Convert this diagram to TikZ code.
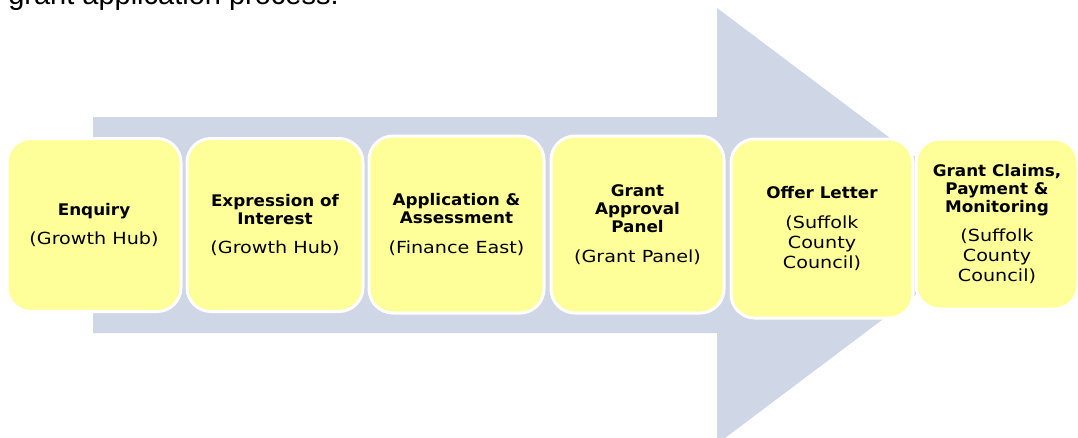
\documentclass[tikz,border=0pt]{standalone}
\usepackage{fontspec}
\setmainfont{Liberation Sans}
\newfontfamily\stagefont[FakeStretch=1.15]{DejaVu Sans}
\newfontfamily\stagebold[FakeStretch=1.05]{DejaVu Sans Bold}
\usetikzlibrary{positioning}

\definecolor{arrowblue}{RGB}{207,214,230}
\definecolor{stageyellow}{RGB}{255,255,153}

\newcommand{\headline}{\stagebold\fontsize{12}{13.5}\selectfont}
\newcommand{\subline}{\stagefont\fontsize{12.5}{15}\selectfont}

\begin{document}
\begin{tikzpicture}
	% Styles
	[
	x=0.75pt, y=-0.75pt,
	stage/.style={rectangle,rounded corners=18pt,fill=stageyellow,draw=white,line width=2.25pt,
		inner sep=0pt,align=center,minimum width=174*0.75pt,minimum height=173*0.75pt,
		font=\fontsize{11}{13.5}\selectfont},
	]

	\useasboundingbox (0,0) rectangle (1078,437);

	% Caption (cut off at the top)
	\node at (8,4) (caption) [anchor=base west,inner sep=0pt,font=\fontsize{21.75}{26}\selectfont] {grant application process.};

	% Arrow
	\fill[arrowblue] (93,117) -- (717,117) -- (717,8) -- (1007,226) -- (717,444) -- (717,333) -- (93,333) -- cycle;

	% Nodes
	\node at (94,225)	(enquiry)	[stage] {\headline Enquiry\\[8.5pt]\subline (Growth Hub)};
	\node at (275,225)	(interest)	[stage,minimum width=176*0.75pt] {\headline Expression of\\\headline Interest\\[8.5pt]\subline (Growth Hub)};
	\node at (456.5,224.5)	(assess)	[stage,minimum width=175*0.75pt,minimum height=177*0.75pt] {\headline Application \&\\\headline Assessment\\[8.5pt]\subline (Finance East)};
	\node at (637.5,224.5)	(panel)	[stage,minimum width=173*0.75pt,minimum height=177*0.75pt] {\headline Grant\\\headline Approval\\\headline Panel\\[8.5pt]\subline (Grant Panel)};
	\node at (822,228.5)	(offer)	[stage,minimum width=182*0.75pt,minimum height=179*0.75pt] {\headline Offer Letter\\[8.5pt]\subline (Suffolk\\[1.5pt]\subline County\\[1.5pt]\subline Council)};
	\node at (997,224)	(claims)	[stage,minimum width=162*0.75pt,minimum height=170*0.75pt] {\headline Grant Claims,\\\headline Payment \&\\\headline Monitoring\\[8.5pt]\subline (Suffolk\\[1.5pt]\subline County\\[1.5pt]\subline Council)};

\end{tikzpicture}
\end{document}
